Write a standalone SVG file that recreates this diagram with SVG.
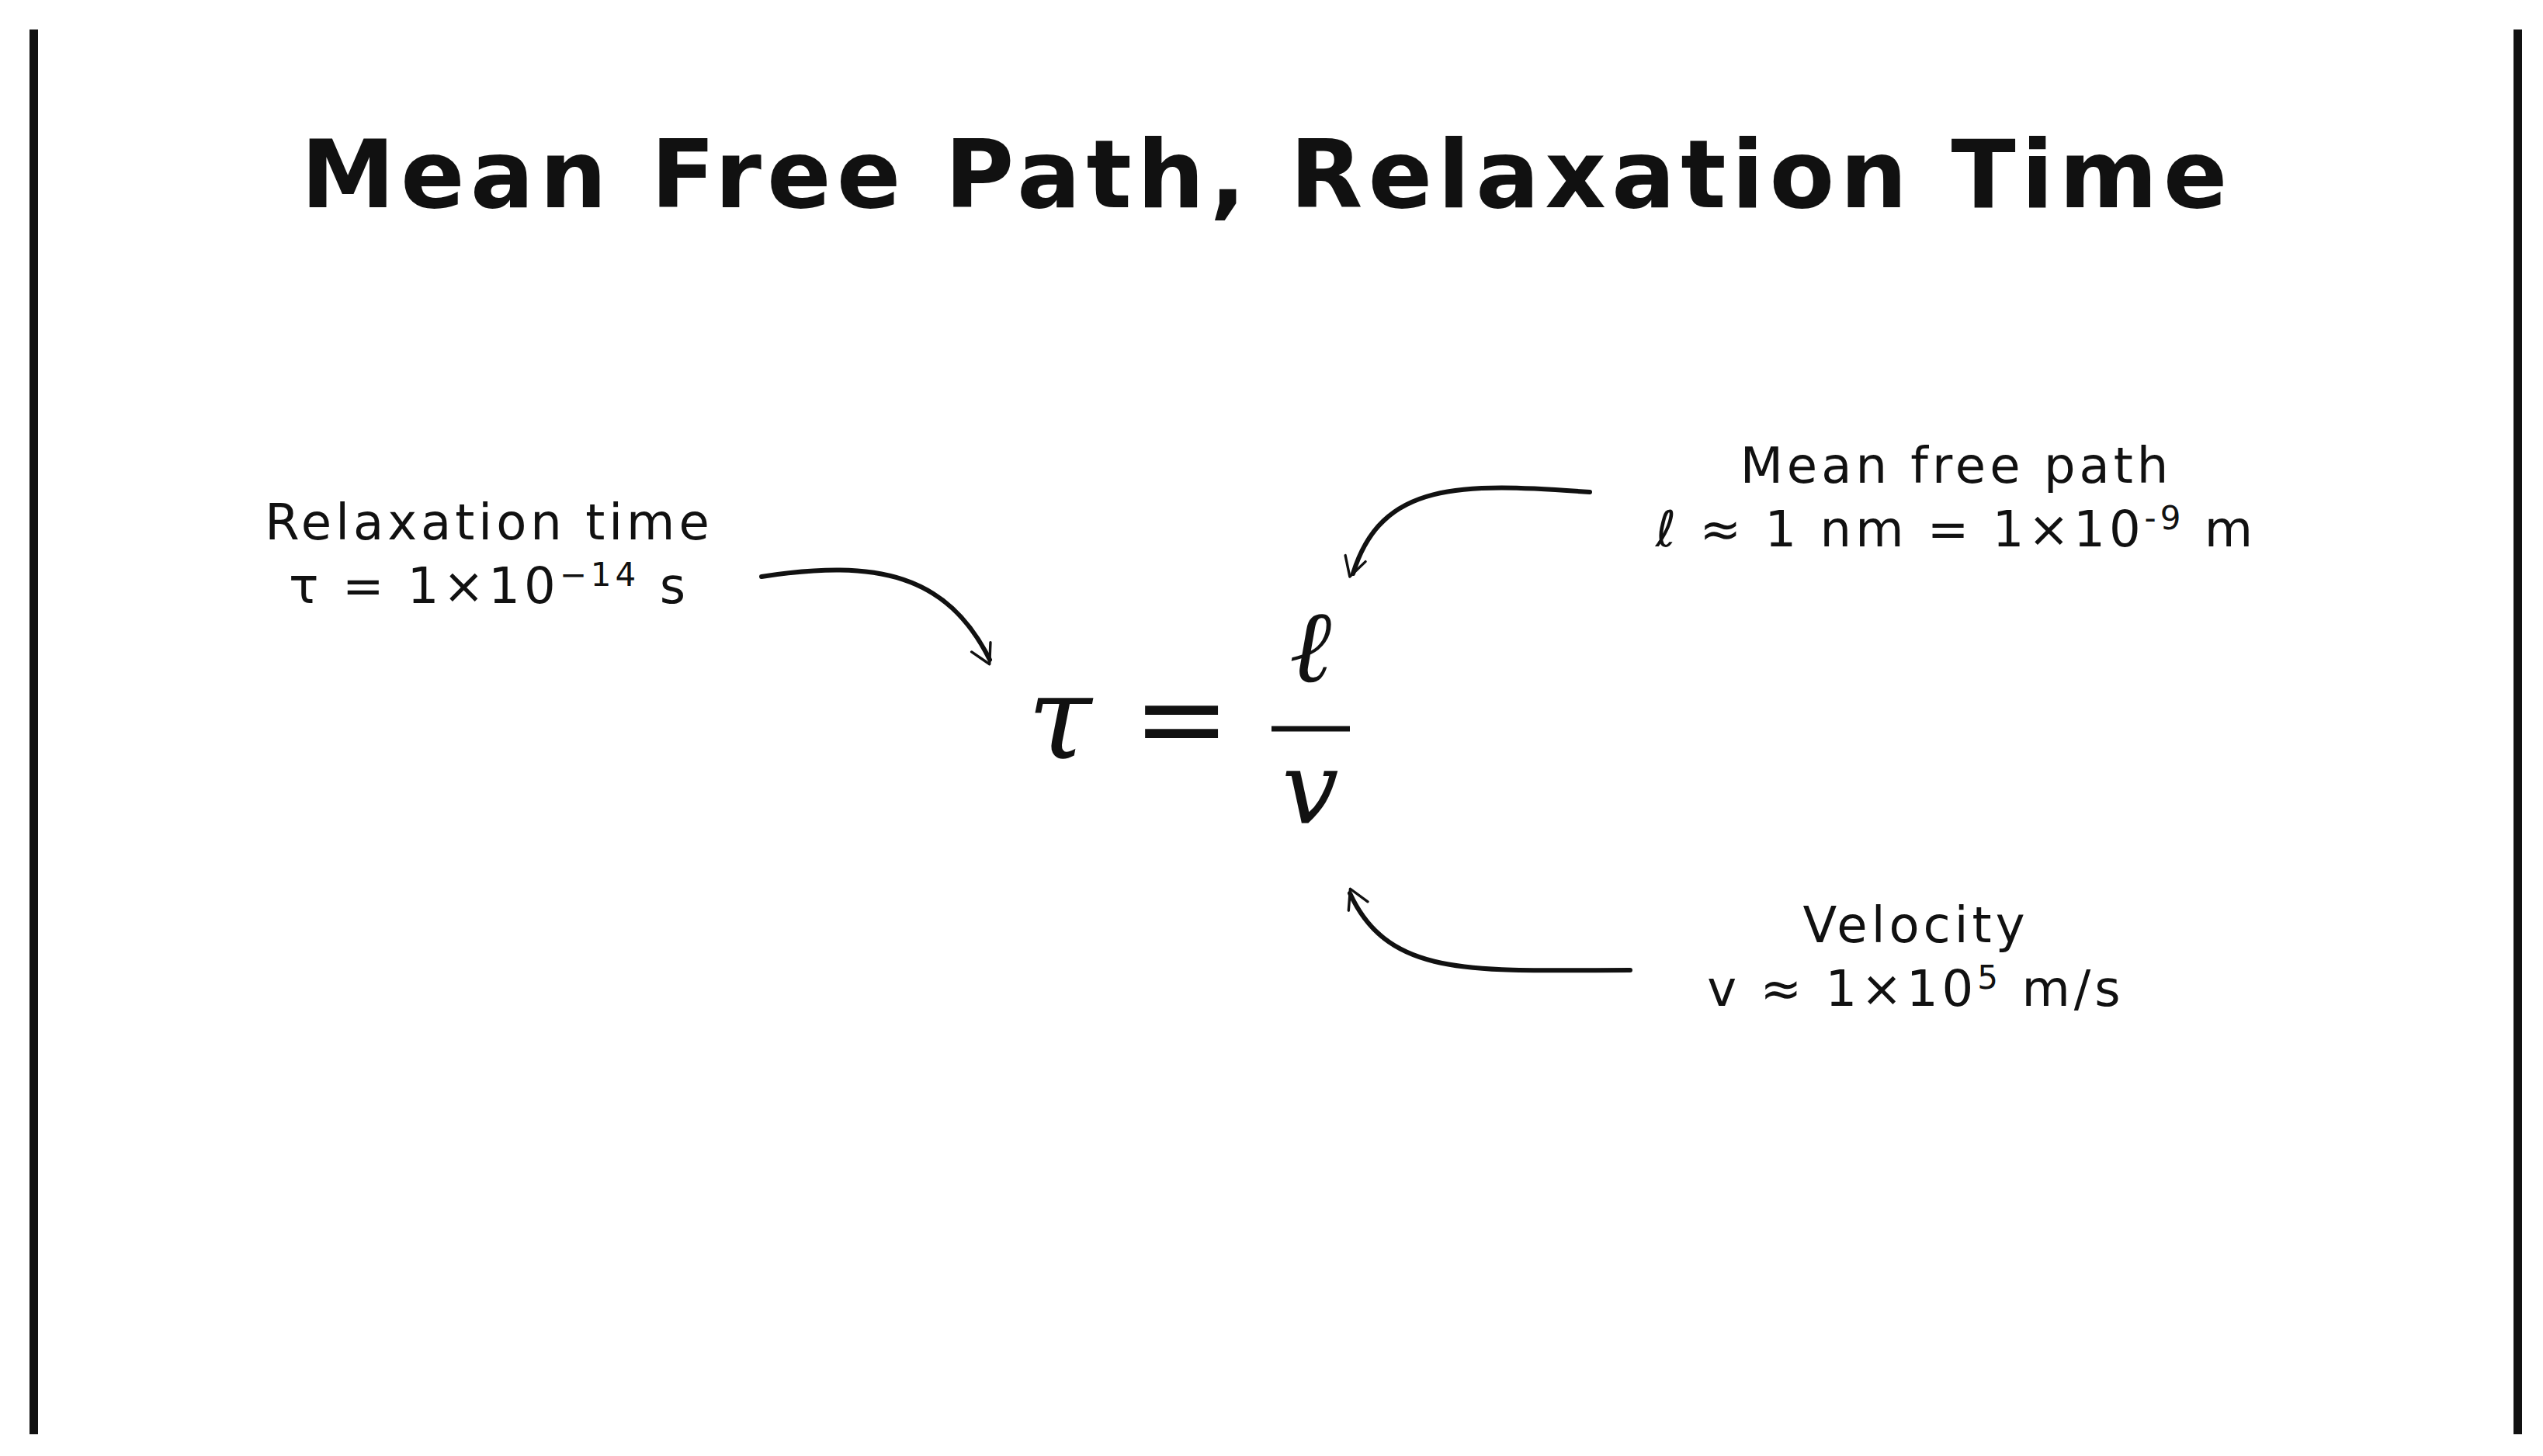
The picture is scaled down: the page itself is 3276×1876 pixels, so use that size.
<svg xmlns="http://www.w3.org/2000/svg" width="3276" height="1876" viewBox="0 0 3276 1876">
<style>
.t{font-family:"DejaVu Sans","Lato",sans-serif;fill:#111;text-anchor:middle}
.lab{font-size:64px;letter-spacing:5px}
.eq{font-family:"DejaVu Serif","Liberation Serif",serif;font-style:italic;fill:#111;text-anchor:middle}
.c{fill:none;stroke:#111;stroke-width:6;stroke-linecap:round}
</style>
<defs>
<marker id="ah" viewBox="0 0 20 20" refX="18" refY="10" markerWidth="8" markerHeight="8" markerUnits="userSpaceOnUse" orient="auto" style="overflow:visible">
<polyline points="0,0 18,10 0,20" fill="none" stroke="#111" stroke-width="2.5" stroke-linecap="round" stroke-linejoin="round" transform="scale(3.4) translate(-9,-5)"/>
</marker>
</defs>
<rect width="3276" height="1876" fill="#fff"/>
<rect x="38" y="38" width="11" height="1810" fill="#111"/>
<rect x="3238" y="38" width="11" height="1810" fill="#111"/>
<g id="title"><text class="t" x="1632" y="267" font-size="122" font-weight="700" letter-spacing="7">Mean Free Path, Relaxation Time</text></g>
<g id="relax"><text class="t lab" x="630" y="695">Relaxation time</text><text class="t lab" x="630" y="777">τ = 1×10<tspan dy="-22" font-size="42">−14</tspan><tspan dy="22"> s</tspan></text></g>
<g id="mfp"><text class="t lab" x="2520" y="622">Mean free path</text><text class="t lab" x="2520" y="704">ℓ ≈ 1 nm = 1×10<tspan dy="-22" font-size="42">-9</tspan><tspan dy="22"> m</tspan></text></g>
<g id="vel"><text class="t lab" x="2468" y="1214">Velocity</text><text class="t lab" x="2468" y="1296">v ≈ 1×10<tspan dy="-22" font-size="42">5</tspan><tspan dy="22"> m/s</tspan></text></g>
<g id="equation">
<text class="eq" x="1365" y="977" font-size="150">τ</text>
<text class="eq" x="1522" y="977" font-size="150" font-style="normal">=</text>
<text class="eq" x="1688" y="878" font-size="130">ℓ</text>
<line x1="1638" y1="939" x2="1739" y2="939" stroke="#111" stroke-width="7"/>
<text class="eq" x="1688" y="1060" font-size="130">v</text>
</g>
<g id="connectors">
<path class="c" d="M981 743 C1130 720 1220 740 1275 850" marker-end="url(#ah)"/>
<path class="c" d="M2048 634 C1880 622 1780 620 1743 739" marker-end="url(#ah)"/>
<path class="c" d="M2100 1250 C1900 1250 1790 1262 1739 1151" marker-end="url(#ah)"/>
</g>
</svg>
